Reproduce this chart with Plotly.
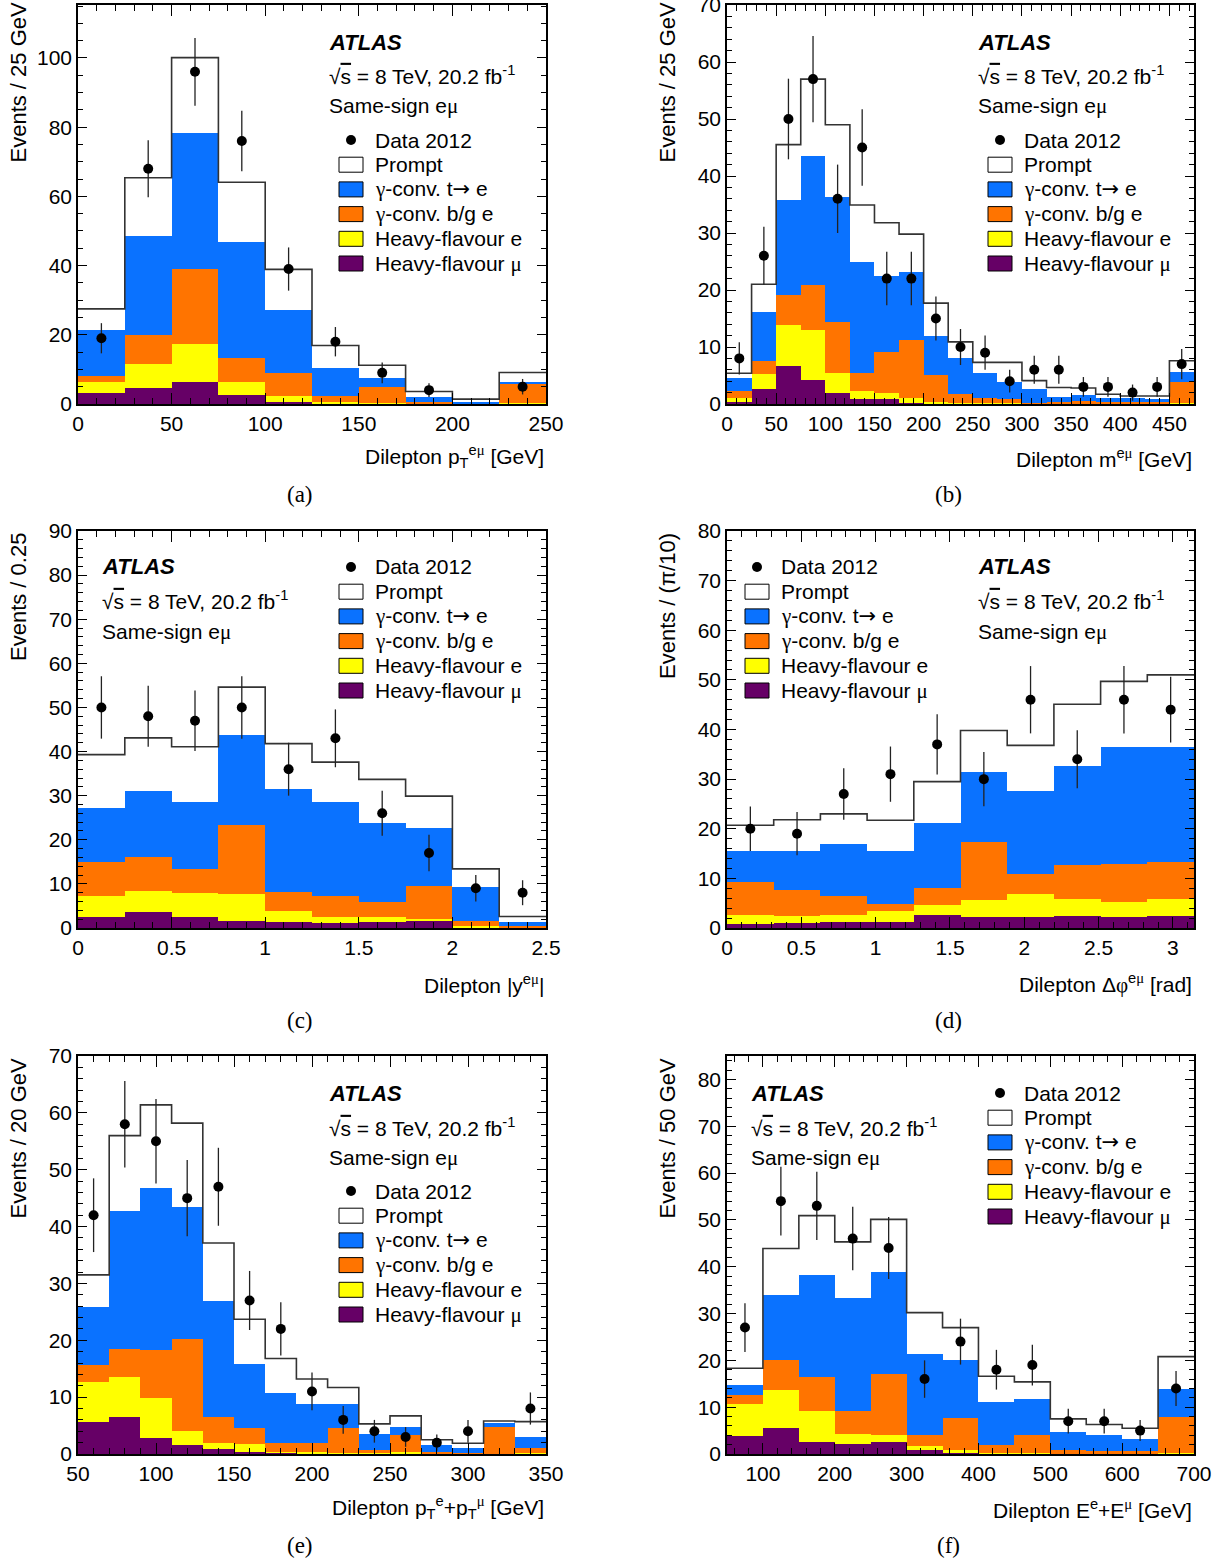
import numpy as np
import plotly.graph_objects as go

W, H = 1230, 1562
FONT = "Liberation Sans"

# ---------------- (a) Dilepton pT (25 GeV bins)
a_edges = [0, 25, 50, 75, 100, 125, 150, 175, 200, 225, 250]
a_hfmu = [3.3, 4.7, 6.3, 2.6, 0.7, 0.2, 0.1, 0.0, 0.0, 0.1]
a_hfe = [3.1, 6.8, 10.9, 3.8, 1.6, 0.4, 0.3, 0.2, 0.0, 0.2]
a_convbg = [1.7, 8.5, 21.7, 7.0, 6.7, 1.7, 4.4, 0.5, 0.2, 5.7]
a_convt = [13.3, 28.5, 39.4, 33.5, 18.3, 8.2, 2.8, 1.3, 0.3, 0.4]
a_prompt = [6.1, 16.9, 21.8, 17.2, 11.6, 6.4, 3.6, 1.6, 0.9, 2.7]
a_data = [19, 68, 96, 76, 39, 18, 9, 4, 0, 5]

# ---------------- (b) Dilepton mass (25 GeV bins)
b_edges = [0, 25, 50, 75, 100, 125, 150, 175, 200, 225, 250, 275, 300, 325, 350, 375, 400, 425, 450, 475]
b_hfmu = [0.3, 2.6, 6.7, 4.2, 2.0, 0.9, 0.9, 0.1, 0, 0, 0, 0, 0, 0, 0, 0, 0, 0, 0.1]
b_hfe = [0.7, 2.7, 7.2, 8.8, 3.5, 1.4, 1.1, 1.0, 0.3, 0.2, 0.1, 0.1, 0, 0, 0, 0, 0, 0, 0.1]
b_convbg = [1.2, 2.3, 5.2, 7.8, 8.8, 3.2, 7.2, 10.1, 4.8, 1.5, 0.9, 0.7, 0.2, 0.4, 0.5, 0.4, 0.3, 0.3, 3.6]
b_convt = [2.4, 8.5, 16.7, 22.7, 22.1, 19.5, 13.2, 11.9, 6.9, 6.3, 4.4, 3.1, 2.4, 0.9, 1.1, 0.7, 0.7, 0.6, 1.9]
b_prompt = [0.8, 4.9, 9.7, 13.5, 12.6, 9.9, 9.4, 6.7, 5.7, 2.9, 1.9, 3.4, 1.5, 1.6, 1.2, 0.6, 0.4, 0.5, 1.9]
b_data = [8, 26, 50, 57, 36, 45, 22, 22, 15, 10, 9, 4, 6, 6, 3, 3, 2, 3, 7]

# ---------------- (c) Dilepton |y| (0.25 bins)
c_edges = [0, 0.25, 0.5, 0.75, 1.0, 1.25, 1.5, 1.75, 2.0, 2.25, 2.5]
c_hfmu = [2.4, 3.7, 2.4, 1.7, 1.4, 1.1, 1.3, 1.5, 0.2, 0.1]
c_hfe = [4.9, 4.6, 5.5, 5.9, 2.5, 1.5, 1.1, 0.5, 0.3, 0.1]
c_convbg = [7.6, 7.8, 5.5, 15.8, 4.2, 4.7, 3.4, 7.5, 1.2, 0.2]
c_convt = [12.3, 14.9, 15.1, 20.3, 23.3, 21.3, 18.0, 13.2, 7.5, 0.9]
c_prompt = [12.1, 12.1, 12.6, 10.9, 10.4, 9.0, 9.9, 7.2, 4.2, 1.3]
c_data = [50, 48, 47, 50, 36, 43, 26, 17, 9, 8]

# ---------------- (d) Dilepton delta-phi (pi/10 bins)
d_edges = [k * np.pi / 10 for k in range(11)]
d_hfmu = [0.9, 1.0, 1.2, 1.3, 2.7, 2.3, 2.2, 2.4, 2.2, 2.5]
d_hfe = [1.8, 1.4, 1.5, 2.1, 1.9, 3.3, 4.7, 3.5, 3.0, 3.3]
d_convbg = [6.6, 5.2, 3.7, 1.5, 3.4, 11.7, 4.0, 6.7, 7.7, 7.5]
d_convt = [6.3, 8.0, 10.6, 10.6, 13.2, 14.2, 16.7, 20.1, 23.5, 23.1]
d_prompt = [5.1, 6.2, 6.0, 6.2, 8.3, 8.3, 9.2, 12.4, 13.3, 14.6]
d_data = [20, 19, 27, 31, 37, 30, 46, 34, 46, 44]

# ---------------- (e) pT(e)+pT(mu) (20 GeV bins)
e_edges = [50, 70, 90, 110, 130, 150, 170, 190, 210, 230, 250, 270, 290, 310, 330, 350]
e_hfmu = [5.6, 6.5, 2.9, 1.5, 0.9, 0.3, 0.2, 0.1, 0.1, 0, 0, 0, 0, 0, 0]
e_hfe = [7.0, 7.1, 7.0, 2.5, 1.1, 1.5, 0.1, 0.2, 0.1, 0.1, 0.3, 0.1, 0, 0, 0.1]
e_convbg = [3.1, 4.9, 8.4, 16.3, 4.5, 2.7, 1.7, 1.6, 4.4, 0.6, 3.0, 0.3, 0.2, 4.8, 0.9]
e_convt = [10.1, 24.2, 28.5, 23.1, 20.4, 11.4, 8.8, 6.9, 4.2, 2.8, 1.4, 1.1, 0.8, 0.6, 2.0]
e_prompt = [5.7, 13.3, 14.6, 14.8, 10.2, 7.8, 6.0, 4.4, 2.9, 1.8, 2.0, 1.0, 0.9, 0.4, 2.7]
e_data = [42, 58, 55, 45, 47, 27, 22, 11, 6, 4, 3, 2, 4, 0, 8]

# ---------------- (f) E(e)+E(mu) (50 GeV bins)
f_edges = [50, 100, 150, 200, 250, 300, 350, 400, 450, 500, 550, 600, 650, 700]
f_hfmu = [3.9, 5.5, 2.5, 2.1, 2.5, 0.9, 0.2, 0.2, 0.1, 0, 0, 0, 0]
f_hfe = [6.8, 8.2, 6.7, 2.2, 1.6, 0.9, 0.7, 0.1, 0.1, 0, 0, 0, 0.2]
f_convbg = [2.0, 6.4, 7.3, 4.8, 13.0, 2.3, 6.8, 1.6, 3.9, 0.9, 0.7, 0.7, 7.8]
f_convt = [2.0, 13.9, 21.7, 24.3, 21.7, 17.2, 12.4, 9.1, 7.6, 3.7, 3.4, 2.6, 5.9]
f_prompt = [3.6, 9.9, 12.7, 11.9, 11.3, 8.9, 6.9, 5.6, 3.7, 2.9, 2.2, 2.2, 6.9]
f_data = [27, 54, 53, 46, 44, 16, 24, 18, 19, 7, 7, 5, 14]

SER = "font-family:'Liberation Serif'"
GAM = f"<span style=\"{SER}\">γ</span>"
MU = f"<span style=\"{SER}\">μ</span>"
ARR = "<span style=\"font-family:'DejaVu Sans'\">→</span>"
SQRT_S = "√<span style=\"text-decoration:overline\">s</span> = 8 TeV, 20.2 fb<sup>-1</sup>"
legend_names = ["Data 2012", "Prompt", f"{GAM}-conv. t{ARR} e", f"{GAM}-conv. b/g e",
                "Heavy-flavour e", f"Heavy-flavour {MU}"]
COL = {"prompt": "#ffffff", "convt": "#0a72ff", "convbg": "#ff7400",
       "hfe": "#ffff00", "hfmu": "#660066"}

panels = [
    dict(edges=a_edges, hfmu=a_hfmu, hfe=a_hfe, bg=a_convbg, t=a_convt, prompt=a_prompt, data=a_data,
         box=(78, 546, 5, 404), xr=[0, 250], yr=[0, 115.3], xd=50, xm=10, yd=20, ym=5,
         xtitle=f"Dilepton p<sub>T</sub><sup>e{MU}</sup> [GeV]", ytitle="Events / 25 GeV",
         lab=(327, [42, 75, 106]), leg=(339, 140), xt=(546, 456), yt=(18, 0), cap=("(a)", 300, 494)),
    dict(edges=b_edges, hfmu=b_hfmu, hfe=b_hfe, bg=b_convbg, t=b_convt, prompt=b_prompt, data=b_data,
         box=(727, 1194, 5, 404), xr=[0, 475], yr=[0, 70], xd=50, xm=10, yd=10, ym=2,
         xtitle=f"Dilepton m<sup>e{MU}</sup> [GeV]", ytitle="Events / 25 GeV",
         lab=(976, [42, 75, 106]), leg=(988, 140), xt=(1194, 458), yt=(667, 0), cap=("(b)", 949, 494)),
    dict(edges=c_edges, hfmu=c_hfmu, hfe=c_hfe, bg=c_convbg, t=c_convt, prompt=c_prompt, data=c_data,
         box=(78, 546, 531, 928), xr=[0, 2.5], yr=[0, 90], xd=0.5, xm=0.1, yd=10, ym=2,
         xtitle=f"Dilepton |y<sup>e{MU}</sup>|", ytitle="Events / 0.25",
         lab=(100, [567, 600, 632]), leg=(339, 567), xt=(546, 984), yt=(18, 531), cap=("(c)", 300, 1020)),
    dict(edges=d_edges, hfmu=d_hfmu, hfe=d_hfe, bg=d_convbg, t=d_convt, prompt=d_prompt, data=d_data,
         box=(727, 1194, 531, 928), xr=[0, np.pi], yr=[0, 80], xd=0.5, xm=0.1, yd=10, ym=2,
         xtitle=f"Dilepton Δ<span style=\"{SER}\">φ</span><sup>e{MU}</sup> [rad]", ytitle="Events / (π/10)",
         lab=(976, [567, 600, 632]), leg=(745, 567), xt=(1194, 984), yt=(667, 531), cap=("(d)", 949, 1020)),
    dict(edges=e_edges, hfmu=e_hfmu, hfe=e_hfe, bg=e_convbg, t=e_convt, prompt=e_prompt, data=e_data,
         box=(78, 546, 1056, 1454), xr=[50, 350], yr=[0, 70], xd=50, xm=10, yd=10, ym=2,
         xtitle=f"Dilepton p<sub>T</sub><sup>e</sup>+p<sub>T</sub><sup>{MU}</sup> [GeV]", ytitle="Events / 20 GeV",
         lab=(327, [1093, 1127, 1158]), leg=(339, 1191), xt=(546, 1507), yt=(18, 1056), cap=("(e)", 300, 1545)),
    dict(edges=f_edges, hfmu=f_hfmu, hfe=f_hfe, bg=f_convbg, t=f_convt, prompt=f_prompt, data=f_data,
         box=(727, 1194, 1056, 1454), xr=[50, 700], yr=[0, 85], xd=100, xm=20, yd=10, ym=2,
         xtitle=f"Dilepton E<sup>e</sup>+E<sup>{MU}</sup> [GeV]", ytitle="Events / 50 GeV",
         lab=(749, [1093, 1127, 1158]), leg=(988, 1093), xt=(1194, 1509), yt=(667, 1056), cap=("(f)", 949, 1545)),
]


def px(x):
    return x / W


def py(y):
    return 1 - y / H


fig = go.Figure()
annotations = []
shapes = []
layout_axes = {}

for i, p in enumerate(panels, start=1):
    xa, ya = f"x{i}", f"y{i}"
    edges = np.array(p["edges"], dtype=float)
    centers = 0.5 * (edges[:-1] + edges[1:])
    widths = np.diff(edges)
    stack = [("hfmu", p["hfmu"]), ("hfe", p["hfe"]), ("convbg", p["bg"]),
             ("convt", p["t"]), ("prompt", p["prompt"])]
    for key, vals in stack:
        fig.add_trace(go.Bar(x=centers, y=vals, width=widths, marker=dict(color=COL[key], line=dict(width=0)),
                             xaxis=xa, yaxis=ya, showlegend=False, hoverinfo="skip"))
    total = np.sum([np.array(v, dtype=float) for _, v in stack], axis=0)
    fig.add_trace(go.Scatter(x=edges, y=list(total) + [total[-1]], mode="lines",
                             line=dict(shape="hv", color="#333333", width=1.6),
                             xaxis=xa, yaxis=ya, showlegend=False, hoverinfo="skip"))
    data = np.array(p["data"], dtype=float)
    dy = [d if d > 0 else None for d in data]
    err = np.sqrt(data)
    fig.add_trace(go.Scatter(x=centers, y=dy, mode="markers",
                             marker=dict(color="black", size=10),
                             error_y=dict(type="data", array=err, width=0, thickness=1.3, color="#222222"),
                             xaxis=xa, yaxis=ya, showlegend=False))

    x0, x1, y0, y1 = p["box"]
    common = dict(showline=True, linecolor="black", linewidth=1.5, mirror="allticks", ticks="inside",
                  tickcolor="black", tickwidth=1.2, showgrid=False, zeroline=False, automargin=False,
                  ticklabeloverflow="allow",
                  tickfont=dict(family=FONT, size=21, color="black"))
    sfx = "" if i == 1 else str(i)
    layout_axes[f"xaxis{sfx}"] = dict(common, domain=[px(x0), px(x1)], range=p["xr"], anchor=ya,
                                      dtick=p["xd"], tick0=0, ticklen=11,
                                      minor=dict(dtick=p["xm"], tick0=0, ticks="inside", ticklen=6,
                                                 tickcolor="black", tickwidth=1.1, showgrid=False))
    layout_axes[f"yaxis{sfx}"] = dict(common, domain=[py(y1), py(y0)], range=p["yr"], anchor=xa,
                                      dtick=p["yd"], tick0=0, ticklen=9,
                                      minor=dict(dtick=p["ym"], tick0=0, ticks="inside", ticklen=5,
                                                 tickcolor="black", tickwidth=1.1, showgrid=False))

    # labels: ATLAS, sqrt(s), channel
    lx, lys = p["lab"]
    annotations.append(dict(x=px(lx), y=py(lys[0]), text="<b><i>ATLAS</i></b>", xanchor="left", yanchor="middle",
                            font=dict(family=FONT, size=22, color="black")))
    annotations.append(dict(x=px(lx), y=py(lys[1]), text=SQRT_S, xanchor="left",
                            yanchor="middle", font=dict(family=FONT, size=21, color="black")))
    annotations.append(dict(x=px(lx), y=py(lys[2]), text=f"Same-sign e{MU}", xanchor="left",
                            yanchor="middle", font=dict(family=FONT, size=21, color="black")))

    # legend (drawn manually)
    bx, by = p["leg"]
    step = 24.7
    bw, bh = 24, 15
    for k, name in enumerate(legend_names):
        yc = by + k * step
        if k == 0:
            shapes.append(dict(type="circle", xref="paper", yref="paper",
                               x0=px(bx + bw / 2 - 5), x1=px(bx + bw / 2 + 5),
                               y0=py(yc + 5), y1=py(yc - 5), fillcolor="black", line=dict(width=0)))
        else:
            key = ["prompt", "convt", "convbg", "hfe", "hfmu"][k - 1]
            shapes.append(dict(type="rect", xref="paper", yref="paper",
                               x0=px(bx), x1=px(bx + bw), y0=py(yc + bh / 2), y1=py(yc - bh / 2),
                               fillcolor=COL[key], line=dict(color="black", width=1)))
        annotations.append(dict(x=px(bx + 34), y=py(yc), text=name, xanchor="left", yanchor="middle",
                                font=dict(family=FONT, size=21, color="black")))

    # axis titles
    tx, ty = p["xt"]
    annotations.append(dict(x=px(tx), y=py(ty), text=p["xtitle"], xanchor="right", yanchor="middle",
                            font=dict(family=FONT, size=21, color="black")))
    yx, yy = p["yt"]
    annotations.append(dict(x=px(yx), y=py(yy), text=p["ytitle"], textangle=-90, xanchor="center",
                            yanchor="top", font=dict(family=FONT, size=22, color="black")))
    cap, cx, cy = p["cap"]
    annotations.append(dict(x=px(cx), y=py(cy), text=cap, xanchor="center", yanchor="middle",
                            font=dict(family="Liberation Serif", size=23, color="black")))

for a in annotations:
    a.update(xref="paper", yref="paper", showarrow=False)

fig.update_layout(width=W, height=H, margin=dict(l=0, r=0, t=0, b=0), paper_bgcolor="white",
                  plot_bgcolor="white", barmode="stack", bargap=0, showlegend=False,
                  annotations=annotations, shapes=shapes, **layout_axes)

fig.write_html("out.html", config={"displayModeBar": False},
               post_script="document.body.style.margin='0px';")
